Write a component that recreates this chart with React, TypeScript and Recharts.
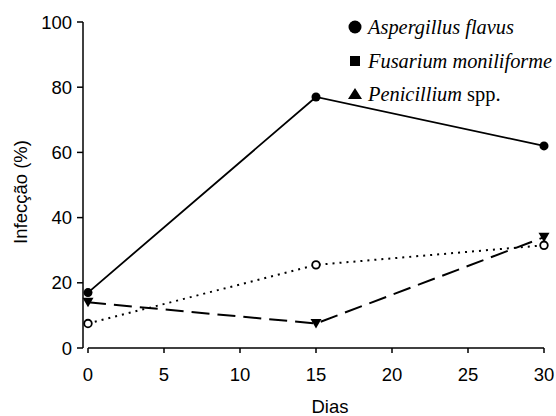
import React from "react";
import { LineChart, Line, XAxis, YAxis, ReferenceLine, Label } from "recharts";

const dias = [0, 15, 30];
const aspergillus = [17, 77, 62];
const fusarium = [7.5, 25.5, 31.5];
const penicillium = [14, 7.5, 34];

const xTicks = [0, 5, 10, 15, 20, 25, 30];
const yTicks = [0, 20, 40, 60, 80, 100];

const legendItems = [
  { name: "Aspergillus flavus", extra: "", shape: "circle" },
  { name: "Fusarium moniliforme", extra: "", shape: "square" },
  { name: "Penicillium", extra: " spp.", shape: "triangle" },
];

const data = dias.map((d, i) => ({
  dia: d,
  aspergillus: aspergillus[i],
  fusarium: fusarium[i],
  penicillium: penicillium[i],
}));

const sans = "'Liberation Sans', Arial, sans-serif";
const serif = "'Liberation Serif', 'Times New Roman', serif";

const FilledDot = (props: any) => {
  const { cx, cy } = props;
  return <circle key={`a${cx}`} cx={cx} cy={cy} r={4.5} fill="#000" />;
};

const OpenDot = (props: any) => {
  const { cx, cy } = props;
  return <circle key={`f${cx}`} cx={cx} cy={cy} r={3.8} fill="#fff" stroke="#000" strokeWidth={1.8} />;
};

const DownTriangle = (props: any) => {
  const { cx, cy } = props;
  return (
    <path
      key={`p${cx}`}
      d={`M${cx - 5.5},${cy - 4.5} L${cx + 5.5},${cy - 4.5} L${cx},${cy + 5} Z`}
      fill="#000"
    />
  );
};

function LegendBox() {
  const rows = [27, 61, 94];
  return (
    <svg width={556} height={120} style={{ display: "block", position: "absolute", left: 0, top: 0, pointerEvents: "none" }}>
      {legendItems.map((it, i) => {
        const y = rows[i];
        const mx = 355;
        let marker;
        if (it.shape === "circle") marker = <circle cx={mx} cy={y} r={6.5} fill="#000" />;
        else if (it.shape === "square") marker = <rect x={mx - 5} y={y - 5} width={10} height={10} fill="#000" />;
        else marker = <path d={`M${mx - 7},${y + 5} L${mx + 7},${y + 5} L${mx},${y - 6} Z`} fill="#000" />;
        return (
          <g key={it.name}>
            {marker}
            <text x={368} y={y + 7} fontFamily={serif} fontSize={20.4} fill="#000">
              <tspan fontStyle="italic">{it.name}</tspan>
              {it.extra && <tspan>{it.extra}</tspan>}
            </text>
          </g>
        );
      })}
    </svg>
  );
}

export default function App() {
  return (
    <div style={{ position: "absolute", left: 0, top: 0, width: 556, height: 416, background: "#fff" }}>
      <LineChart
        width={556}
        height={416}
        data={data}
        margin={{ top: 22, right: 12, left: 0, bottom: 0 }}
      >
        <XAxis
          dataKey="dia"
          type="number"
          domain={[0, 30]}
          ticks={xTicks}
          padding={{ left: 5, right: 0 }}
          axisLine={false}
          tickLine={{ stroke: "#000", strokeWidth: 1.5 }}
          tickSize={5}
          tickMargin={15}
          height={68}
          tick={{ fontSize: 18.5, fill: "#000", fontFamily: sans }}
        >
          <Label
            content={() => (
              <text x={330} y={413} textAnchor="middle" fontSize={18.5} fontFamily={sans} fill="#000">
                Dias
              </text>
            )}
          />
        </XAxis>
        <YAxis
          type="number"
          domain={[0, 100]}
          ticks={yTicks}
          width={83}
          axisLine={{ stroke: "#000", strokeWidth: 1.5 }}
          tickLine={{ stroke: "#000", strokeWidth: 1.5 }}
          tickSize={6}
          tickMargin={5}
          tick={{ fontSize: 18.5, fill: "#000", fontFamily: sans }}
        >
          <Label
            content={() => (
              <text
                x={20}
                y={192}
                transform="rotate(-90 20 192)"
                textAnchor="middle"
                dominantBaseline="central"
                fontSize={18.5}
                fontFamily={sans}
                fill="#000"
              >
                Infecção (%)
              </text>
            )}
          />
        </YAxis>
        <ReferenceLine
          segment={[
            { x: 0, y: 0 },
            { x: 30, y: 0 },
          ]}
          stroke="#000"
          strokeWidth={1.5}
          ifOverflow="visible"
        />
        <Line
          dataKey="fusarium"
          stroke="#000"
          strokeWidth={2}
          strokeDasharray="2 5"
          dot={OpenDot}
          activeDot={false}
          isAnimationActive={false}
        />
        <Line
          dataKey="penicillium"
          stroke="#000"
          strokeWidth={2}
          strokeDasharray="18 8"
          dot={DownTriangle}
          activeDot={false}
          isAnimationActive={false}
        />
        <Line
          dataKey="aspergillus"
          stroke="#000"
          strokeWidth={1.8}
          dot={FilledDot}
          activeDot={false}
          isAnimationActive={false}
        />
      </LineChart>
      <LegendBox />
    </div>
  );
}
